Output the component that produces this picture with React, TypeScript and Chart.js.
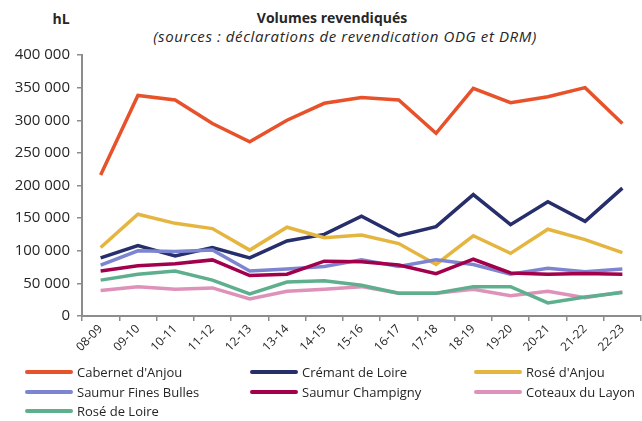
import React, { useEffect, useRef } from "react";
import { Chart, registerables } from "chart.js";

Chart.register(...registerables);

const campaigns = ["08-09", "09-10", "10-11", "11-12", "12-13", "13-14", "14-15", "15-16", "16-17", "17-18", "18-19", "19-20", "20-21", "21-22", "22-23"];

const cabernetAnjou = [216000, 338000, 331000, 295000, 267000, 300000, 326000, 335000, 331000, 280000, 349000, 327000, 336000, 350000, 295000];
const cremantLoire = [89000, 108000, 92000, 105000, 89000, 115000, 125000, 153000, 123000, 137000, 186000, 140000, 175000, 145000, 196000];
const roseAnjou = [105000, 156000, 142000, 134000, 101000, 136000, 120000, 124000, 111000, 79000, 123000, 96000, 133000, 117000, 97000];
const saumurFinesBulles = [78000, 100000, 99000, 101000, 69000, 72000, 76000, 86000, 76000, 86000, 79000, 64000, 73000, 68000, 72000];
const saumurChampigny = [69000, 77000, 80000, 86000, 62000, 64000, 84000, 83000, 78000, 65000, 87000, 66000, 64000, 65000, 64000];
const coteauxLayon = [39000, 45000, 41000, 43000, 26000, 38000, 41000, 45000, 35000, 35000, 41000, 31000, 38000, 28000, 37000];
const roseLoire = [55000, 64000, 69000, 55000, 34000, 52000, 54000, 47000, 35000, 35000, 45000, 45000, 20000, 29000, 36000];

const seriesNames = ["Cabernet d'Anjou", "Crémant de Loire", "Rosé d'Anjou", "Saumur Fines Bulles", "Saumur Champigny", "Coteaux du Layon", "Rosé de Loire"];
const seriesValues = [cabernetAnjou, cremantLoire, roseAnjou, saumurFinesBulles, saumurChampigny, coteauxLayon, roseLoire];
const seriesColors = ["#E8522B", "#262E6B", "#E5B63F", "#7D85D0", "#A3004C", "#DE91B9", "#5EAF8D"];

const FONT = "'Open Sans', sans-serif";
const TEXT = "#262626";
const AXIS = "#8C8C8C";

function fmt(v: number): string {
  const s = String(Math.round(v));
  return s.replace(/\B(?=(\d{3})+(?!\d))/g, " ");
}

export default function App() {
  const ref = useRef<HTMLCanvasElement | null>(null);

  useEffect(() => {
    if (!ref.current) return;
    const chart = new Chart(ref.current, {
      type: "line",
      data: {
        labels: campaigns,
        datasets: seriesNames.map((name, i) => ({
          label: name,
          data: seriesValues[i],
          borderColor: seriesColors[i],
          backgroundColor: seriesColors[i],
          borderWidth: 3.5,
          pointRadius: 0,
          tension: 0,
          fill: false,
          order: seriesNames.length - i,
        })),
      },
      options: {
        responsive: false,
        animation: false,
        layout: { padding: { top: 55, left: 0, right: 1, bottom: 0 } },
        plugins: {
          legend: { display: false },
          title: { display: false },
          tooltip: { enabled: false },
        },
        scales: {
          x: {
            type: "category",
            offset: true,
            afterFit: (s: any) => {
              s.height = 49;
            },
            grid: {
              offset: true,
              drawOnChartArea: false,
              drawTicks: true,
              tickLength: 5,
              color: AXIS,
              lineWidth: 1.5,
            },
            border: { display: true, color: AXIS, width: 2 },
            ticks: {
              autoSkip: false,
              minRotation: 45,
              maxRotation: 45,
              padding: 1,
              color: TEXT,
              font: { family: FONT, size: 12 },
            },
          },
          y: {
            min: 0,
            max: 400000,
            afterFit: (s: any) => {
              s.width = 82;
            },
            grid: {
              drawOnChartArea: false,
              drawTicks: true,
              tickLength: 5,
              color: AXIS,
              lineWidth: 1.5,
            },
            border: { display: true, color: AXIS, width: 2 },
            ticks: {
              stepSize: 50000,
              padding: 7,
              color: TEXT,
              font: { family: FONT, size: 15 },
              callback: (v: any) => fmt(Number(v)),
            },
          },
        },
      },
    });
    return () => chart.destroy();
  }, []);

  const legendCols = [25, 250, 474];
  const legendRows = [372, 392, 411];

  return (
    <div style={{ position: "absolute", left: 0, top: 0, width: 642, height: 421, background: "#fff", fontFamily: FONT, color: TEXT }}>
      <div style={{ position: "absolute", left: 61, top: 18, transform: "translate(-50%, -50%)", fontWeight: 700, fontSize: 14, whiteSpace: "nowrap" }}>hL</div>
      <div style={{ position: "absolute", left: 332, top: 17, transform: "translate(-50%, -50%)", fontWeight: 700, fontSize: 14, whiteSpace: "nowrap" }}>Volumes revendiqués</div>
      <div style={{ position: "absolute", left: 345, top: 36, transform: "translate(-50%, -50%)", fontStyle: "italic", fontSize: 15, letterSpacing: 0.6, whiteSpace: "nowrap" }}>(sources : déclarations de revendication ODG et DRM)</div>
      <canvas ref={ref} width={642} height={365} style={{ position: "absolute", left: 0, top: 0, width: 642, height: 365 }} />
      {seriesNames.map((name, i) => {
        const col = legendCols[i % 3];
        const row = legendRows[Math.floor(i / 3)];
        return (
          <div key={name} style={{ position: "absolute", left: col, top: row, transform: "translateY(-50%)", display: "flex", alignItems: "center", whiteSpace: "nowrap", fontSize: 13 }}>
            <span style={{ display: "inline-block", width: 48, height: 4, borderRadius: 2, background: seriesColors[i], marginRight: 4 }} />
            <span>{name}</span>
          </div>
        );
      })}
    </div>
  );
}
